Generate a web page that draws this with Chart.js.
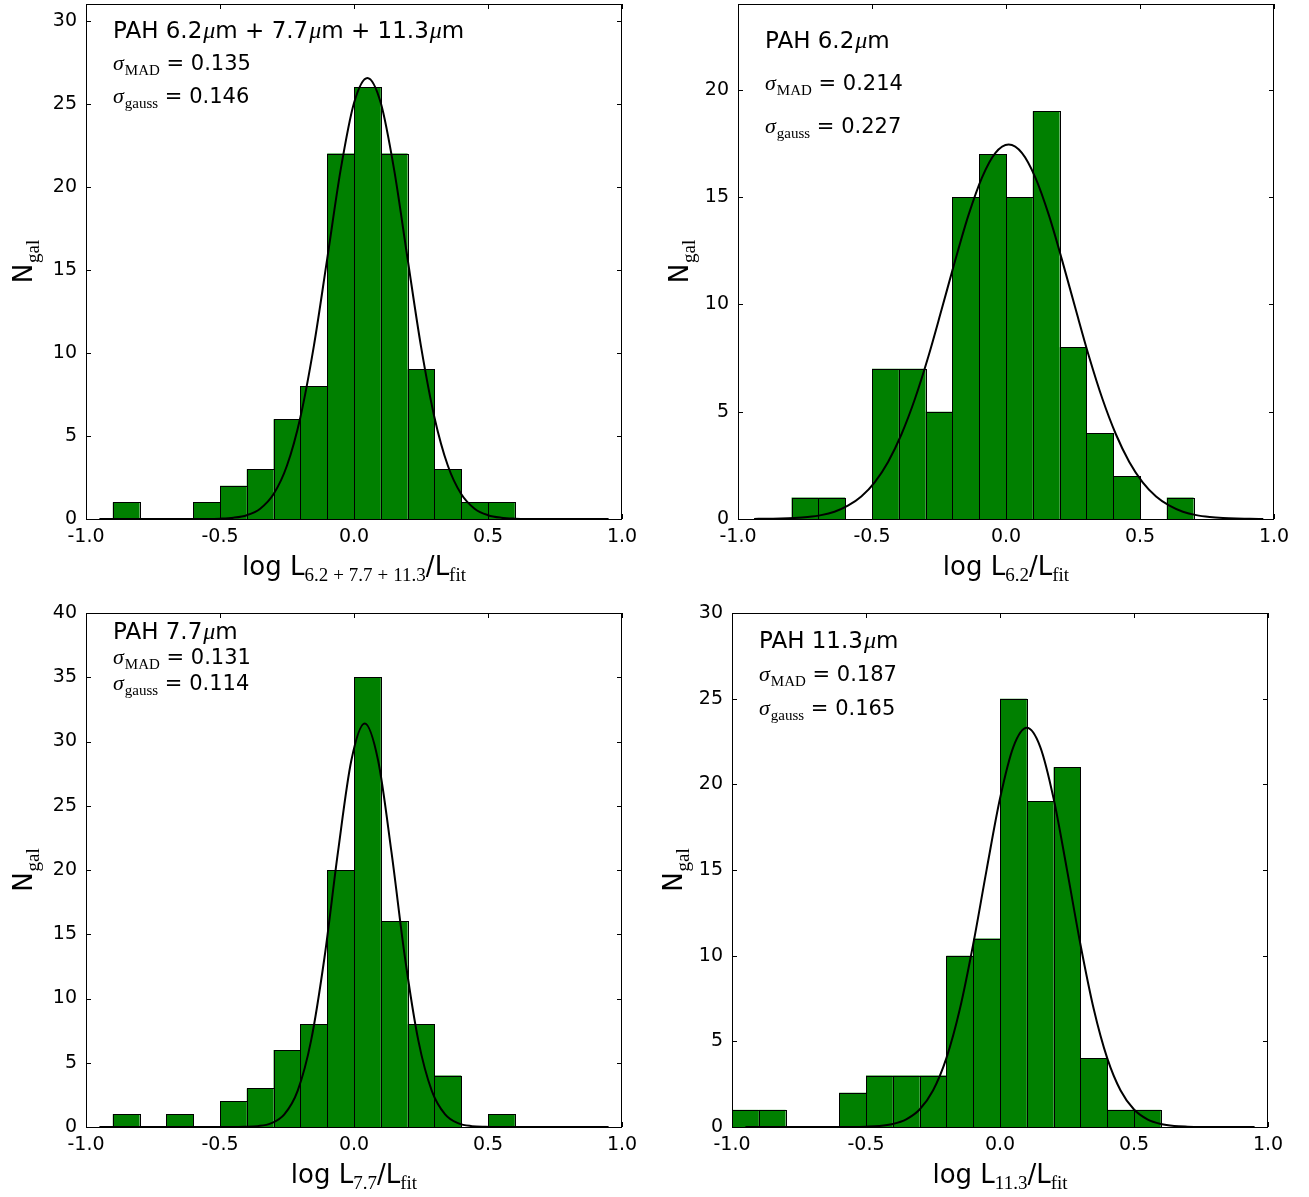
<!DOCTYPE html>
<html><head><meta charset="utf-8">
<script src="https://cdn.jsdelivr.net/npm/chart.js@4.4.1/dist/chart.umd.min.js"></script>
<style>
html,body{margin:0;padding:0;background:#fff;width:1309px;height:1197px;overflow:hidden;position:relative}
canvas{position:absolute}
</style></head><body>
<canvas id="c1"></canvas><canvas id="c2"></canvas><canvas id="c3"></canvas><canvas id="c4"></canvas>
<script>
// ---------------- DATA ----------------
// histogram bin centres (bin width 0.1) and counts, non-empty bins only
const sumCenters = [-0.85,-0.55,-0.45,-0.35,-0.25,-0.15,-0.05,0.05,0.15,0.25,0.35,0.45,0.55];
const sumCounts  = [1,1,2,3,6,8,22,26,22,9,3,1,1];
const p62Centers = [-0.75,-0.65,-0.45,-0.35,-0.25,-0.15,-0.05,0.05,0.15,0.25,0.35,0.45,0.65];
const p62Counts  = [1,1,7,7,5,15,17,15,19,8,4,2,1];
const p77Centers = [-0.85,-0.65,-0.45,-0.35,-0.25,-0.15,-0.05,0.05,0.15,0.25,0.35,0.55];
const p77Counts  = [1,1,2,3,6,8,20,35,16,8,4,1];
const p113Centers = [-0.95,-0.85,-0.55,-0.45,-0.35,-0.25,-0.15,-0.05,0.05,0.15,0.25,0.35,0.45,0.55];
const p113Counts  = [1,1,2,3,3,3,10,11,25,19,21,4,1,1];

// Gaussian fit curves
const sumCurveX = [-0.95,-0.55,-0.5,-0.45,-0.4,-0.35,-0.3,-0.25,-0.2,-0.15,-0.1,-0.05,0,0.05,0.1,0.15,0.2,0.25,0.3,0.35,0.4,0.45,0.5,0.55,0.6,0.65,0.95];
const sumCurveY = [0,0.005,0.02,0.075,0.23,0.62,1.50,3.22,6.13,10.39,15.66,21.0,25.04,26.55,25.04,21.0,15.66,10.39,6.13,3.22,1.50,0.62,0.23,0.075,0.02,0.005,0];
const p62CurveX = [-0.94,-0.89,-0.84,-0.79,-0.74,-0.69,-0.64,-0.59,-0.54,-0.49,-0.44,-0.39,-0.34,-0.29,-0.24,-0.19,-0.14,-0.09,-0.04,0.01,0.06,0.11,0.16,0.21,0.26,0.31,0.36,0.41,0.46,0.51,0.56,0.61,0.66,0.71,0.76,0.81,0.86,0.91,0.96];
const p62CurveY = [0.004,0.01,0.021,0.046,0.094,0.18,0.34,0.62,1.05,1.71,2.66,3.95,5.59,7.56,9.77,12.03,14.16,15.90,17.05,17.45,17.05,15.90,14.16,12.03,9.77,7.56,5.59,3.95,2.66,1.71,1.05,0.62,0.34,0.18,0.094,0.046,0.021,0.01,0.004];
const p77CurveX = [-0.95,-0.46,-0.41,-0.36,-0.31,-0.26,-0.21,-0.16,-0.11,-0.06,-0.01,0.04,0.09,0.14,0.19,0.24,0.29,0.34,0.39,0.44,0.49,0.54,0.95];
const p77CurveY = [0,0,0.013,0.067,0.28,0.98,2.83,6.74,13.21,21.37,28.52,31.4,28.52,21.37,13.21,6.74,2.83,0.98,0.28,0.067,0.013,0,0];
const p113CurveX = [-0.95,-0.55,-0.5,-0.45,-0.4,-0.35,-0.3,-0.25,-0.2,-0.15,-0.1,-0.05,0,0.05,0.1,0.15,0.2,0.25,0.3,0.35,0.4,0.45,0.5,0.55,0.6,0.65,0.7,0.75,0.95];
const p113CurveY = [0,0.005,0.02,0.06,0.18,0.45,1.02,2.13,4.02,6.87,10.67,15.01,19.17,22.19,23.3,22.19,19.17,15.01,10.67,6.87,4.02,2.13,1.02,0.45,0.18,0.06,0.02,0.005,0];

// ticks & labels
const xTickValues = [-1.0,-0.5,0.0,0.5,1.0];
const yTicksSum  = [0,5,10,15,20,25,30];
const yTicks62   = [0,5,10,15,20];
const yTicks77   = [0,5,10,15,20,25,30,35,40];
const yTicks113  = [0,5,10,15,20,25,30];
const yMaxes     = [31,24,40,30];
const panelTitles = ['PAH 6.2μm + 7.7μm + 11.3μm','PAH 6.2μm','PAH 7.7μm','PAH 11.3μm'];
const sigmaMAD    = ['0.135','0.214','0.131','0.187'];
const sigmaGauss  = ['0.146','0.227','0.114','0.165'];
const xLabelSubs  = ['6.2+7.7+11.3','6.2','7.7','11.3'];

// ---------------- LAYOUT / STYLE ----------------
const SANS = '"DejaVu Sans", sans-serif';
const SERIF = '"Liberation Serif", "DejaVu Serif", serif';
const PADL = 100, PADT = 30, PADR = 40, PADB = 80;

const panels = [
  {id:'c1', L:86,  T:4,   R:622,  B:519,  yTicks:yTicksSum, centers:sumCenters, counts:sumCounts, cx:sumCurveX, cy:sumCurveY, text:[33.8,66.3,99.4], ylabX:22},
  {id:'c2', L:738, T:4,   R:1274, B:519,  yTicks:yTicks62,  centers:p62Centers, counts:p62Counts, cx:p62CurveX, cy:p62CurveY, text:[43.5,85.8,128.5], ylabX:678},
  {id:'c3', L:86,  T:613, R:622,  B:1127, yTicks:yTicks77,  centers:p77Centers, counts:p77Counts, cx:p77CurveX, cy:p77CurveY, text:[25.8,50.7,76.5], ylabX:22},
  {id:'c4', L:732, T:613, R:1268, B:1127, yTicks:yTicks113, centers:p113Centers, counts:p113Counts, cx:p113CurveX, cy:p113CurveY, text:[34.7,68.1,101.9], ylabX:672}
];

function measure(ctx, parts){ let w=0; for(const p of parts){ ctx.font=p.f; w += (p.pre||0) + ctx.measureText(p.t).width + (p.post||0);} return w; }
function drawParts(ctx, x, y, parts, align){
  const w = measure(ctx, parts);
  let cx = align==='center' ? x - w/2 : x;
  for(const p of parts){ ctx.font=p.f; cx += p.pre||0; ctx.fillText(p.t, cx, y + (p.dy||0)); cx += ctx.measureText(p.t).width + (p.post||0); }
}
function titleParts(str){
  const parts=[];
  str.split('μ').forEach((seg,i)=>{
    if(i>0) parts.push({t:'μ', f:`italic 24px ${SERIF}`, pre:1});
    if(seg) parts.push({t:seg, f:`23px ${SANS}`});
  });
  return parts;
}
function sigmaParts(sub, val){
  return [{t:'σ', f:`italic 22px ${SERIF}`},{t:sub, f:`15px ${SERIF}`, dy:5, pre:1},{t:' = '+val, f:`21px ${SANS}`}];
}
function xLabelParts(sub){
  const parts=[{t:'log L', f:`26px ${SANS}`}];
  sub.split('+').forEach((s,i)=>{
    if(i>0) parts.push({t:'+', f:`19px ${SERIF}`, dy:6, pre:5, post:5});
    parts.push({t:s, f:`19px ${SERIF}`, dy:6});
  });
  parts.push({t:'/L', f:`26px ${SANS}`});
  parts.push({t:'fit', f:`19px ${SERIF}`, dy:6});
  return parts;
}

panels.forEach((P, idx)=>{
  const cv = document.getElementById(P.id);
  const W = (P.R-P.L) + PADL + PADR, H = (P.B-P.T) + PADT + PADB;
  cv.width = W; cv.height = H;
  cv.style.left = (P.L-PADL)+'px'; cv.style.top = (P.T-PADT)+'px';
  cv.style.width = W+'px'; cv.style.height = H+'px';

  const barData = P.centers.map((c,i)=>({x:c, y:P.counts[i]}));
  const curveData = P.cx.map((x,i)=>({x:x, y:P.cy[i]}));

  const deco = {
    id:'deco'+idx,
    afterDatasetDraw(chart, args){
      if (args.meta.type !== 'bar') return;
      const ctx = chart.ctx;
      ctx.save();
      ctx.strokeStyle = '#000'; ctx.lineWidth = 1;
      args.meta.data.forEach(el=>{
        const p = el.getProps(['x','y','base','width'], true);
        const l = Math.round(p.x - p.width/2) + 0.5;
        const r = Math.round(p.x + p.width/2) + 0.5;
        const t = Math.round(p.y) + 0.5;
        const b = Math.round(p.base) + 0.5;
        ctx.strokeRect(l, t, r-l, b-t);
      });
      ctx.restore();
    },
    afterDraw(chart){
      const ctx = chart.ctx, a = chart.chartArea;
      const xs = chart.scales.x, ys = chart.scales.y;
      ctx.save();
      ctx.strokeStyle = '#000'; ctx.lineWidth = 1;
      ctx.beginPath();
      xTickValues.forEach(v=>{
        const px = Math.round(xs.getPixelForValue(v)) + 0.5;
        ctx.moveTo(px, a.bottom); ctx.lineTo(px, a.bottom-5);
        ctx.moveTo(px, a.top); ctx.lineTo(px, a.top+5);
      });
      P.yTicks.forEach(v=>{
        const py = Math.round(ys.getPixelForValue(v)) + 0.5;
        ctx.moveTo(a.left, py); ctx.lineTo(a.left+5, py);
        ctx.moveTo(a.right, py); ctx.lineTo(a.right-5, py);
      });
      ctx.stroke();
      ctx.strokeRect(Math.round(a.left)+0.5, Math.round(a.top)+0.5, Math.round(a.right-a.left)-1, Math.round(a.bottom-a.top));
      // annotations
      ctx.fillStyle = '#000'; ctx.textBaseline = 'alphabetic'; ctx.textAlign = 'left';
      const tx = a.left + 27;
      drawParts(ctx, tx, a.top + P.text[0], titleParts(panelTitles[idx]), 'left');
      drawParts(ctx, tx, a.top + P.text[1], sigmaParts('MAD', sigmaMAD[idx]), 'left');
      drawParts(ctx, tx, a.top + P.text[2], sigmaParts('gauss', sigmaGauss[idx]), 'left');
      // x label
      drawParts(ctx, (a.left+a.right)/2, a.bottom + 56, xLabelParts(xLabelSubs[idx]), 'center');
      // y label
      ctx.translate(P.ylabX - (P.L - PADL) + 10, (a.top+a.bottom)/2);
      ctx.rotate(-Math.PI/2);
      drawParts(ctx, 0, 0, [{t:'N', f:`26px ${SANS}`},{t:'gal', f:`19px ${SERIF}`, dy:7, pre:1}], 'center');
      ctx.restore();
    }
  };

  new Chart(cv, {
    type:'bar',
    data:{ datasets:[
      {type:'line', data:curveData, borderColor:'#000', borderWidth:2, pointRadius:0, pointHoverRadius:0,
       cubicInterpolationMode:'monotone', fill:false, order:0},
      {type:'bar', data:barData, backgroundColor:'#008000', borderWidth:0,
       borderSkipped:false, barPercentage:1, categoryPercentage:1, inflateAmount:0, order:1}
    ]},
    options:{
      responsive:false, animation:false, devicePixelRatio:1,
      layout:{padding:{left:0, top:PADT, right:PADR, bottom:0}},
      plugins:{legend:{display:false}, tooltip:{enabled:false}, title:{display:false}},
      scales:{
        x:{type:'linear', min:-1, max:1, offset:false,
           grid:{display:false, drawTicks:false}, border:{display:false},
           afterBuildTicks: s => { s.ticks = xTickValues.map(v=>({value:v})); },
           afterFit: s => { s.height = PADB; },
           ticks:{font:{family:'DejaVu Sans', size:19}, color:'#000', padding:7, maxRotation:0, autoSkip:false,
                  callback: v => (Math.abs(v)<1e-9?0:v).toFixed(1)}},
        y:{type:'linear', min:0, max:yMaxes[idx],
           grid:{display:false, drawTicks:false}, border:{display:false},
           afterBuildTicks: s => { s.ticks = P.yTicks.map(v=>({value:v})); },
           afterFit: s => { s.width = PADL; },
           ticks:{font:{family:'DejaVu Sans', size:19}, color:'#000', padding:9, autoSkip:false,
                  callback: v => String(v)}}
      }
    },
    plugins:[deco]
  });
});
</script>
</body></html>
